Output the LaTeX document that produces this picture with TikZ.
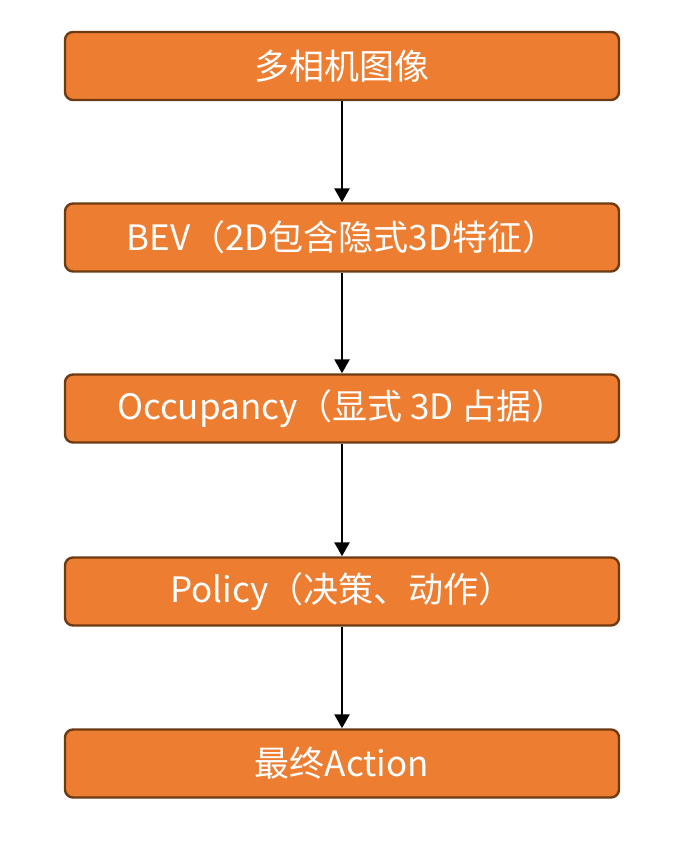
\documentclass[tikz,border=0pt]{standalone}
\usepackage{fontspec}
\setmainfont{Noto Sans CJK SC}
\usetikzlibrary{arrows.meta}
\definecolor{boxfill}{HTML}{ED7D31}
\definecolor{boxline}{HTML}{6E3A12}
\tikzset{
  stagebox/.style={draw=boxline, line width=2.4pt, fill=boxfill, rounded corners=8pt,
    minimum width=554pt, minimum height=68pt, text=white, inner sep=0pt,
    font=\fontsize{35}{40}\selectfont},
  flowarrow/.style={-{Triangle[width=15pt,length=14pt]}, line width=2.6pt, black}
}
\begin{document}
\begin{tikzpicture}[x=1pt,y=1pt]
\useasboundingbox (0,0) rectangle (674,848);
\node[stagebox] (b1) at (342,782) {多相机图像};
\node[stagebox] (b2) at (342,610.5) {BEV（2D包含隐式3D特征）};
\node[stagebox] (b3) at (342,439.5) {Occupancy（显式 3D 占据）};
\node[stagebox] (b4) at (342,256.5) {Policy（决策、动作）};
\node[stagebox] (b5) at (342,84.5) {最终Action};
\draw[flowarrow] (b1.south) -- (b2.north);
\draw[flowarrow] (b2.south) -- (b3.north);
\draw[flowarrow] (b3.south) -- (b4.north);
\draw[flowarrow] (b4.south) -- (b5.north);
\end{tikzpicture}
\end{document}
